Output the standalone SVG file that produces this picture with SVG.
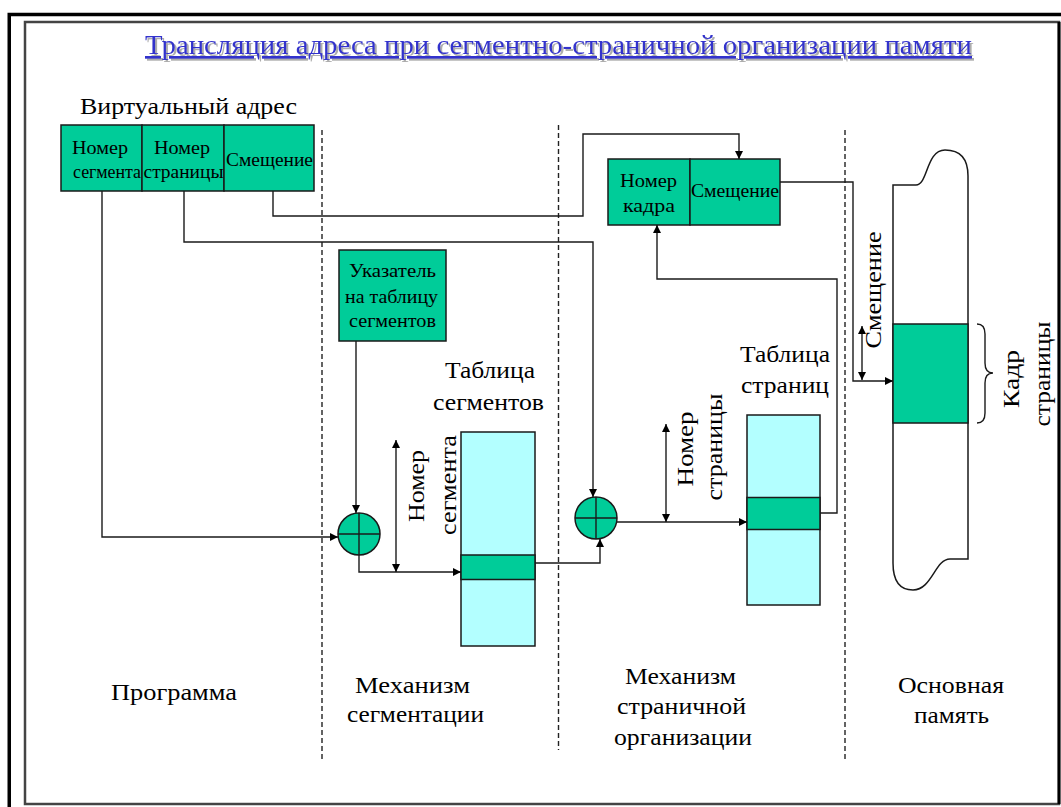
<svg xmlns="http://www.w3.org/2000/svg" width="1061" height="807" viewBox="0 0 1061 807">
<defs>
<style>
.g{fill:#00CC99;stroke:#1a1a1a;stroke-width:1.5}
.c{fill:#B3FFFF;stroke:#1a1a1a;stroke-width:1.5}
.ln{fill:none;stroke:#1a1a1a;stroke-width:1.4}
.ds{fill:none;stroke:#222;stroke-width:1.4;stroke-dasharray:5 3}
</style>
<marker id="ah" viewBox="0 0 10 10" refX="10" refY="5" markerWidth="8" markerHeight="8" markerUnits="userSpaceOnUse" orient="auto">
<path d="M0 0L10 5L0 10Z" fill="#000"/>
</marker>
<marker id="as" viewBox="0 0 10 10" refX="0" refY="5" markerWidth="8" markerHeight="8" markerUnits="userSpaceOnUse" orient="auto">
<path d="M10 0L0 5L10 10Z" fill="#000"/>
</marker>
<filter id="sh" x="-5%" y="-30%" width="110%" height="160%">
<feDropShadow dx="2" dy="2" stdDeviation="0.6" flood-color="#999" flood-opacity="0.8"/>
</filter>
</defs>
<rect x="0" y="0" width="1061" height="807" fill="#fff"/>
<g id="frame">
<rect x="9.25" y="14.5" width="1100" height="900" fill="none" stroke="#000" stroke-width="3.5"/>
<rect x="25" y="22" width="1034" height="782" fill="none" stroke="#444" stroke-width="2.5"/>
<line x1="1059" y1="22" x2="1059" y2="804" stroke="#000" stroke-width="3"/>
</g>
<g id="title">
<text x="145" y="54" font-family="Liberation Serif, serif" style="font-family:'Liberation Serif',serif !important" font-size="27" textLength="827" lengthAdjust="spacingAndGlyphs" fill="#3333CC" text-decoration="underline" filter="url(#sh)">Трансляция адреса при сегментно-страничной организации памяти</text>
</g>
<g id="dividers">
<line class="ds" x1="322" y1="130" x2="322" y2="760"/>
<line class="ds" x1="558.5" y1="125" x2="558.5" y2="750"/>
<line class="ds" x1="845" y1="130" x2="845" y2="762"/>
</g>
<g id="virtual-address">
<text font-family="Liberation Serif, serif" style="font-family:'Liberation Serif',serif !important" x="80" y="114" font-size="24" textLength="217" lengthAdjust="spacingAndGlyphs">Виртуальный адрес</text>
<rect class="g" x="61" y="125" width="81" height="66"/>
<rect class="g" x="142" y="125" width="82" height="66"/>
<rect class="g" x="224" y="125" width="90" height="66"/>
<text font-family="Liberation Serif, serif" style="font-family:'Liberation Serif',serif !important" font-size="19" x="72" y="154" textLength="56" lengthAdjust="spacingAndGlyphs">Номер</text>
<text font-family="Liberation Serif, serif" style="font-family:'Liberation Serif',serif !important" font-size="19" x="73" y="178" textLength="68" lengthAdjust="spacingAndGlyphs">сегмента</text>
<text font-family="Liberation Serif, serif" style="font-family:'Liberation Serif',serif !important" font-size="19" x="154" y="154" textLength="56" lengthAdjust="spacingAndGlyphs">Номер</text>
<text font-family="Liberation Serif, serif" style="font-family:'Liberation Serif',serif !important" font-size="19" x="143.5" y="178" textLength="80" lengthAdjust="spacingAndGlyphs">страницы</text>
<text font-family="Liberation Serif, serif" style="font-family:'Liberation Serif',serif !important" font-size="19" x="226" y="166" textLength="87" lengthAdjust="spacingAndGlyphs">Смещение</text>
</g>
<g id="physical-address">
<rect class="g" x="608" y="159" width="82" height="66"/>
<rect class="g" x="690" y="159" width="90" height="66"/>
<text font-family="Liberation Serif, serif" style="font-family:'Liberation Serif',serif !important" font-size="19" x="620" y="187" textLength="57" lengthAdjust="spacingAndGlyphs">Номер</text>
<text font-family="Liberation Serif, serif" style="font-family:'Liberation Serif',serif !important" font-size="19" x="623" y="212" textLength="52" lengthAdjust="spacingAndGlyphs">кадра</text>
<text font-family="Liberation Serif, serif" style="font-family:'Liberation Serif',serif !important" font-size="19" x="691" y="197" textLength="88" lengthAdjust="spacingAndGlyphs">Смещение</text>
</g>
<g id="segment-table-pointer">
<rect class="g" x="339" y="250" width="107" height="91"/>
<text font-family="Liberation Serif, serif" style="font-family:'Liberation Serif',serif !important" font-size="19" x="349" y="277" textLength="87" lengthAdjust="spacingAndGlyphs">Указатель</text>
<text font-family="Liberation Serif, serif" style="font-family:'Liberation Serif',serif !important" font-size="19" x="345" y="302.5" textLength="93" lengthAdjust="spacingAndGlyphs">на таблицу</text>
<text font-family="Liberation Serif, serif" style="font-family:'Liberation Serif',serif !important" font-size="19" x="349" y="326.5" textLength="87" lengthAdjust="spacingAndGlyphs">сегментов</text>
</g>
<g id="adder-1">
<circle class="g" cx="359" cy="534" r="21"/>
<path class="ln" d="M338 534H380M359 513V555"/>
</g>
<g id="adder-2">
<circle class="g" cx="596" cy="518" r="21"/>
<path class="ln" d="M575 518H617M596 497V539"/>
</g>
<g id="segment-table">
<text font-family="Liberation Serif, serif" style="font-family:'Liberation Serif',serif !important" font-size="23" x="445" y="378" textLength="90" lengthAdjust="spacingAndGlyphs">Таблица</text>
<text font-family="Liberation Serif, serif" style="font-family:'Liberation Serif',serif !important" font-size="23" x="433" y="410" textLength="111" lengthAdjust="spacingAndGlyphs">сегментов</text>
<rect class="c" x="461" y="432" width="74" height="214"/>
<rect class="g" x="461" y="555" width="74" height="24.5"/>
</g>
<g id="page-table">
<text font-family="Liberation Serif, serif" style="font-family:'Liberation Serif',serif !important" font-size="23" x="740" y="362" textLength="90" lengthAdjust="spacingAndGlyphs">Таблица</text>
<text font-family="Liberation Serif, serif" style="font-family:'Liberation Serif',serif !important" font-size="23" x="741" y="393" textLength="88" lengthAdjust="spacingAndGlyphs">страниц</text>
<rect class="c" x="747" y="415" width="73" height="190"/>
<rect class="g" x="747" y="497.5" width="73" height="32"/>
</g>
<g id="main-memory">
<path d="M893 185 L916 185 C928 185 926 150 945 150 C962 150 968 160 968 176 L968 559 L950 559 C935 559 932 590 913 590 C898 590 893 578 893 563 Z" fill="#fff" stroke="#1a1a1a" stroke-width="1.5"/>
<rect class="g" x="893" y="324" width="75" height="99"/>
<path class="ln" d="M977 324 Q985 324 985 334 L985 363 Q985 373 993 373 Q985 373 985 383 L985 413 Q985 423 977 423"/>
</g>
<g id="labels">
<text font-family="Liberation Serif, serif" style="font-family:'Liberation Serif',serif !important" font-size="23" text-anchor="middle" transform="translate(424,486) rotate(-90)" textLength="72" lengthAdjust="spacingAndGlyphs">Номер</text>
<text font-family="Liberation Serif, serif" style="font-family:'Liberation Serif',serif !important" font-size="23" text-anchor="middle" transform="translate(456,485) rotate(-90)" textLength="100" lengthAdjust="spacingAndGlyphs">сегмента</text>
<text font-family="Liberation Serif, serif" style="font-family:'Liberation Serif',serif !important" font-size="23" text-anchor="middle" transform="translate(693,449) rotate(-90)" textLength="75" lengthAdjust="spacingAndGlyphs">Номер</text>
<text font-family="Liberation Serif, serif" style="font-family:'Liberation Serif',serif !important" font-size="23" text-anchor="middle" transform="translate(722,447) rotate(-90)" textLength="107" lengthAdjust="spacingAndGlyphs">страницы</text>
<text font-family="Liberation Serif, serif" style="font-family:'Liberation Serif',serif !important" font-size="23" text-anchor="middle" transform="translate(881,290) rotate(-90)" textLength="117" lengthAdjust="spacingAndGlyphs">Смещение</text>
<text font-family="Liberation Serif, serif" style="font-family:'Liberation Serif',serif !important" font-size="23" text-anchor="middle" transform="translate(1019,379) rotate(-90)" textLength="58" lengthAdjust="spacingAndGlyphs">Кадр</text>
<text font-family="Liberation Serif, serif" style="font-family:'Liberation Serif',serif !important" font-size="23" text-anchor="middle" transform="translate(1050,374) rotate(-90)" textLength="105" lengthAdjust="spacingAndGlyphs">страницы</text>
</g>
<g id="bottom-labels">
<text font-family="Liberation Serif, serif" style="font-family:'Liberation Serif',serif !important" font-size="23" x="111" y="700" textLength="126" lengthAdjust="spacingAndGlyphs">Программа</text>
<text font-family="Liberation Serif, serif" style="font-family:'Liberation Serif',serif !important" font-size="23" x="355" y="693" textLength="115" lengthAdjust="spacingAndGlyphs">Механизм</text>
<text font-family="Liberation Serif, serif" style="font-family:'Liberation Serif',serif !important" font-size="23" x="347" y="722" textLength="137" lengthAdjust="spacingAndGlyphs">сегментации</text>
<text font-family="Liberation Serif, serif" style="font-family:'Liberation Serif',serif !important" font-size="23" x="625" y="684" textLength="111" lengthAdjust="spacingAndGlyphs">Механизм</text>
<text font-family="Liberation Serif, serif" style="font-family:'Liberation Serif',serif !important" font-size="23" x="617" y="714" textLength="129" lengthAdjust="spacingAndGlyphs">страничной</text>
<text font-family="Liberation Serif, serif" style="font-family:'Liberation Serif',serif !important" font-size="23" x="614" y="745" textLength="138" lengthAdjust="spacingAndGlyphs">организации</text>
<text font-family="Liberation Serif, serif" style="font-family:'Liberation Serif',serif !important" font-size="23" x="898" y="693" textLength="106" lengthAdjust="spacingAndGlyphs">Основная</text>
<text font-family="Liberation Serif, serif" style="font-family:'Liberation Serif',serif !important" font-size="23" x="914" y="723" textLength="75" lengthAdjust="spacingAndGlyphs">память</text>
</g>
<g id="connectors">
<path class="ln" d="M102 191 V537 H338" marker-end="url(#ah)"/>
<path class="ln" d="M184 191 V242 H593 V497" marker-end="url(#ah)"/>
<path class="ln" d="M273 191 V216 H583 V134 H739 V159" marker-end="url(#ah)"/>
<path class="ln" d="M356 341 V513" marker-end="url(#ah)"/>
<path class="ln" d="M359 555 V572 H461" marker-end="url(#ah)"/>
<path class="ln" d="M396 440 V572" marker-start="url(#as)" marker-end="url(#ah)"/>
<path class="ln" d="M535 563 H600 V539" marker-end="url(#ah)"/>
<path class="ln" d="M617 522 H747" marker-end="url(#ah)"/>
<path class="ln" d="M666 424 V522" marker-start="url(#as)" marker-end="url(#ah)"/>
<path class="ln" d="M820 513 H837 V279 H657 V225" marker-end="url(#ah)"/>
<path class="ln" d="M780 182 H853 V381 H893" marker-end="url(#ah)"/>
<path class="ln" d="M862 326 V380" marker-start="url(#as)" marker-end="url(#ah)"/>
</g>
</svg>
